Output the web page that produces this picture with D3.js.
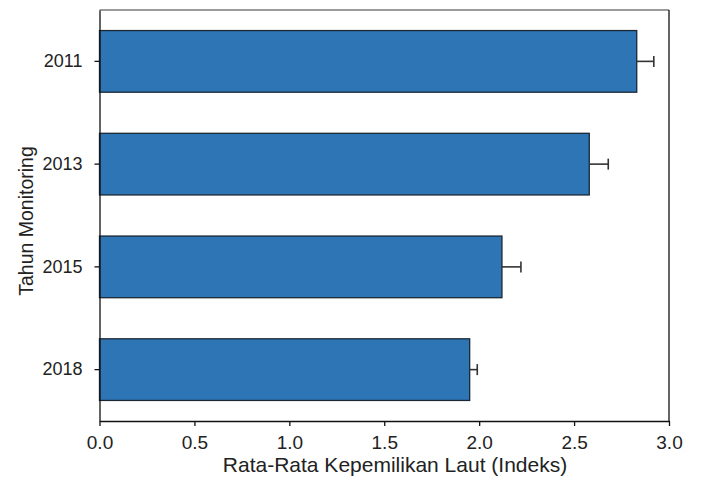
<!DOCTYPE html>
<html>
<head>
<meta charset="utf-8">
<script src="https://cdn.jsdelivr.net/npm/d3@7/dist/d3.min.js"></script>
<style>
  html, body { margin: 0; padding: 0; background: #fff; }
  svg { display: block; font-family: "Liberation Sans", Arial, sans-serif; }
</style>
</head>
<body>
<svg id="chart" width="702" height="480"></svg>
<script>
const years = ["2011", "2013", "2015", "2018"];
const means = [2.83, 2.58, 2.12, 1.95];
const errors = [0.09, 0.10, 0.10, 0.04];
const xTicks = [0.0, 0.5, 1.0, 1.5, 2.0, 2.5, 3.0];
const xTitle = "Rata-Rata Kepemilikan Laut (Indeks)";
const yTitle = "Tahun Monitoring";

(function () {
const svg = d3.select("#chart");
const pLeft = 99.5, pRight = 669, pTop = 10, pBottom = 421;

const x = d3.scaleLinear().domain([0, 3]).range([pLeft, pRight]);
const y = d3.scaleBand().domain(years).range([pTop, pBottom]).paddingInner(0.4).paddingOuter(0.2);

// frame: top (gray) and right
svg.append("line").attr("x1", pLeft).attr("x2", pRight).attr("y1", pTop).attr("y2", pTop)
  .attr("stroke", "#7a7a7a").attr("stroke-width", 1.5);
svg.append("line").attr("x1", pRight).attr("x2", pRight).attr("y1", pTop).attr("y2", pBottom)
  .attr("stroke", "#111").attr("stroke-width", 1.3);

// bars
svg.append("g").selectAll("rect").data(years).join("rect")
  .attr("x", x(0))
  .attr("y", d => y(d))
  .attr("width", (d, i) => x(means[i]) - x(0))
  .attr("height", y.bandwidth())
  .attr("fill", "#2e75b6")
  .attr("stroke", "#1b2733")
  .attr("stroke-width", 1.3);

// error bars
const eg = svg.append("g").attr("stroke", "#333").attr("stroke-width", 1.6);
years.forEach((d, i) => {
  const cy = y(d) + y.bandwidth() / 2;
  eg.append("line").attr("x1", x(means[i])).attr("x2", x(means[i] + errors[i]))
    .attr("y1", cy).attr("y2", cy);
  eg.append("line").attr("x1", x(means[i] + errors[i])).attr("x2", x(means[i] + errors[i]))
    .attr("y1", cy - 5.5).attr("y2", cy + 5.5);
});

// x axis
const xAxis = svg.append("g").attr("transform", `translate(0,${pBottom})`)
  .call(d3.axisBottom(x).tickValues(xTicks).tickFormat(d3.format(".1f")).tickSizeInner(5).tickSizeOuter(0).tickPadding(10));
xAxis.select(".domain").attr("stroke", "#111").attr("stroke-width", 1.3);
xAxis.selectAll(".tick line").attr("stroke", "#111").attr("stroke-width", 1.3);
xAxis.selectAll(".tick text").attr("font-size", "19px").attr("fill", "#222")
  .attr("font-family", "Liberation Sans, Arial, sans-serif");

// y axis
const yAxis = svg.append("g").attr("transform", `translate(${pLeft},0)`)
  .call(d3.axisLeft(y).tickSizeInner(5).tickSizeOuter(0).tickPadding(12));
yAxis.select(".domain").attr("stroke", "#111").attr("stroke-width", 1.3);
yAxis.selectAll(".tick line").attr("stroke", "#111").attr("stroke-width", 1.3);
yAxis.selectAll(".tick text").attr("font-size", "18px").attr("fill", "#222")
  .attr("font-family", "Liberation Sans, Arial, sans-serif");

// titles
svg.append("text").attr("x", 395).attr("y", 472).attr("text-anchor", "middle")
  .attr("font-size", "21px").attr("fill", "#222").text(xTitle);
svg.append("text").attr("transform", "translate(33,221) rotate(-90)").attr("text-anchor", "middle")
  .attr("font-size", "19.5px").attr("fill", "#222").text(yTitle);
})();
</script>
</body>
</html>
